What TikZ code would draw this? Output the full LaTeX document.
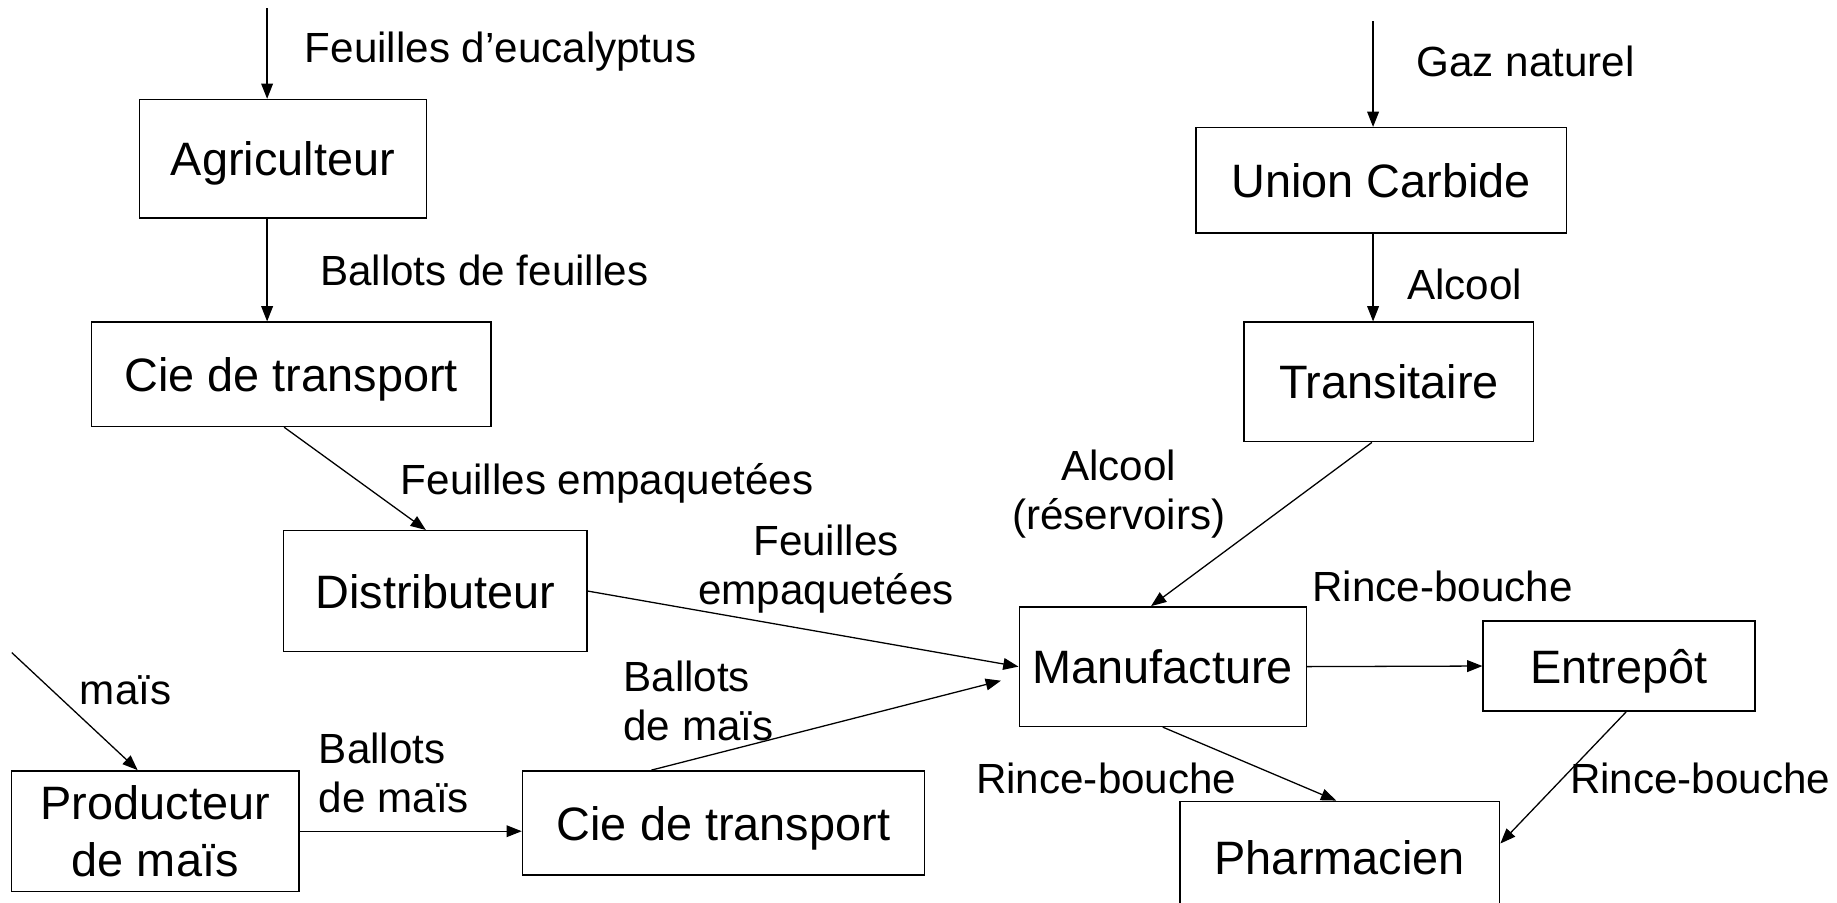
\documentclass[tikz,border=0pt]{standalone}
\usepackage{fontspec}
\setmainfont{Liberation Sans}
\usetikzlibrary{arrows.meta}
\newcommand\boxfnt{\fontsize{40}{48}\selectfont}
\newcommand\lblfnt{\fontsize{36}{42}\selectfont}
\begin{document}
\begin{tikzpicture}[x=1pt,y=-1pt,
  box/.style={draw,line width=1.3pt,inner sep=0pt,font=\boxfnt},
  onebox/.style={box,text height=29pt,text depth=0pt},
  lbl/.style={inner sep=0pt,font=\lblfnt},
  arr/.style={line width=1.1pt,-{Triangle[length=13pt,width=10pt]}}]
\useasboundingbox (0,0) rectangle (1568,770);
% boxes
\node[onebox,minimum width=245pt,minimum height=101pt] (agri) at (241.5,135.5) {Agriculteur};
\node[onebox,minimum width=341pt,minimum height=89pt] (cie1) at (248.5,319.5) {Cie de transport};
\node[onebox,minimum width=259pt,minimum height=103pt] (dist) at (371.5,504.5) {Distributeur};
\node[onebox,minimum width=316pt,minimum height=90pt] (uc) at (1179,154) {Union Carbide};
\node[onebox,minimum width=247pt,minimum height=102pt] (trans) at (1185.5,326) {Transitaire};
\node[onebox,minimum width=245pt,minimum height=102pt] (manuf) at (992.5,569) {Manufacture};
\node[onebox,minimum width=232pt,minimum height=77pt] (entre) at (1382,568.5) {Entrepôt};
\node[onebox,minimum width=273pt,minimum height=96pt] (pharm) at (1143.5,732) {Pharmacien};
\node[box,align=center,minimum width=245pt,minimum height=103pt] (prod) at (132.5,709.5) {Producteur\\de maïs};
\node[onebox,minimum width=343pt,minimum height=89pt] (cie2) at (617.5,702.5) {Cie de transport};
% free ends
\coordinate (in1) at (228,7);
\coordinate (in2) at (1172,18);
\coordinate (in3) at (10,557);
% connectors
\draw[arr] (in1) -- (in1 |- agri.north);
\draw[arr] (agri.south -| in1) -- (cie1.north -| in1);
\draw[arr] ([xshift=-6pt]cie1.south) -- ([xshift=-8pt]dist.north);
\draw[arr] (dist.east) -- (manuf.west);
\draw[arr] ([xshift=-61.5pt]cie2.north) -- ([xshift=-15pt,yshift=-12pt]manuf.west);
\draw[arr] (in2) -- (in2 |- uc.north);
\draw[arr] (uc.south -| in2) -- (trans.north -| in2);
\draw[arr] ([xshift=-14.5pt]trans.south) -- ([xshift=-10pt]manuf.north);
\draw[arr] (manuf.east) -- (entre.west);
\draw[arr] (manuf.south) -- ([xshift=-3pt]pharm.north);
\draw[arr] ([xshift=6pt]entre.south) -- ([yshift=12pt]pharm.east);
\draw[arr] (in3) -- ([xshift=-15pt]prod.north);
\draw[arr] (prod.east) -- (prod.east -| cie2.west);
% labels
\node[lbl,anchor=base west] (l1) at (260,53) {Feuilles d’eucalyptus};
\node[lbl,anchor=base west] (l2) at (273,244) {Ballots de feuilles};
\node[lbl,anchor=base west] (l3) at (342,422) {Feuilles empaquetées};
\node[lbl,align=center] (l4) at (705,486) {Feuilles\\empaquetées};
\node[lbl,anchor=base west] (l5) at (1209,65) {Gaz naturel};
\node[lbl,anchor=base west] (l6) at (1201,256) {Alcool};
\node[lbl,align=center] (l7) at (955,422) {Alcool\\(réservoirs)};
\node[lbl,anchor=base west] (l8) at (1120,513) {Rince-bouche};
\node[lbl,anchor=base west] (l9) at (833,677) {Rince-bouche};
\node[lbl,anchor=base west] (l10) at (1340,677) {Rince-bouche};
\node[lbl,anchor=base west] (l11) at (68,601) {maïs};
\node[lbl,align=left,anchor=west] (l12) at (272,660) {Ballots\\de maïs};
\node[lbl,align=left,anchor=west] (l13) at (532,598) {Ballots\\de maïs};
\end{tikzpicture}
\end{document}
